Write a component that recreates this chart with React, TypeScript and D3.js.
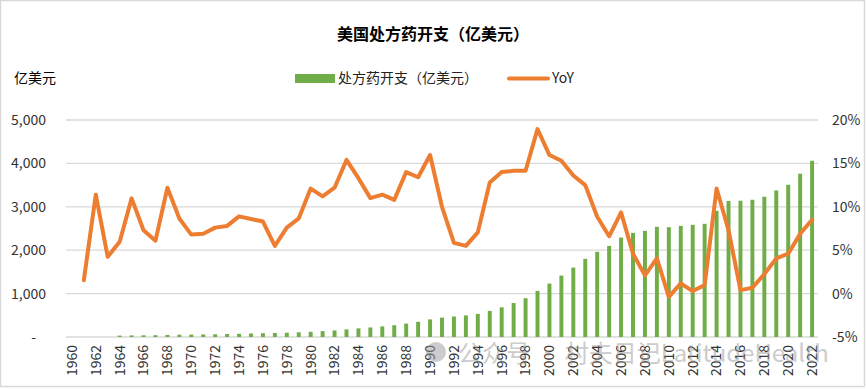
import React from 'react';
import * as d3 from 'd3';

const years: number[] = [
  1960, 1961, 1962, 1963, 1964, 1965, 1966, 1967, 1968, 1969,
  1970, 1971, 1972, 1973, 1974, 1975, 1976, 1977, 1978, 1979,
  1980, 1981, 1982, 1983, 1984, 1985, 1986, 1987, 1988, 1989,
  1990, 1991, 1992, 1993, 1994, 1995, 1996, 1997, 1998, 1999,
  2000, 2001, 2002, 2003, 2004, 2005, 2006, 2007, 2008, 2009,
  2010, 2011, 2012, 2013, 2014, 2015, 2016, 2017, 2018, 2019,
  2020, 2021, 2022,
];

// 处方药开支（亿美元）
const spending: (number | null)[] = [
  null, null, null, null, 33, 37, 40, 42, 47, 52,
  55, 59, 63, 68, 74, 81, 87, 92, 99, 108,
  120, 135, 151, 175, 198, 220, 245, 271, 309, 350,
  405, 446, 472, 498, 533, 601, 685, 782, 893, 1062,
  1231, 1415, 1600, 1800, 1962, 2100, 2292, 2400, 2446, 2538,
  2530, 2561, 2585, 2608, 2908, 3135, 3140, 3162, 3231, 3377,
  3508, 3762, 4062,
];

// YoY (%)
const yoy: (number | null)[] = [
  null, 1.55, 11.4, 4.24, 5.97, 10.97, 7.3, 6.1, 12.2, 8.65,
  6.8, 6.9, 7.6, 7.8, 8.9, 8.6, 8.3, 5.5, 7.6, 8.66,
  12.1, 11.2, 12.2, 15.4, 13.3, 11.0, 11.4, 10.8, 14.0, 13.4,
  15.96, 10.0, 5.85, 5.5, 7.05, 12.8, 14.0, 14.15, 14.15, 18.95,
  15.96, 15.3, 13.6, 12.5, 8.85, 6.6, 9.35, 4.6, 2.1, 4.05,
  -0.37, 1.17, 0.29, 0.98, 12.1, 7.3, 0.4, 0.67, 2.25, 4.05,
  4.6, 6.9, 8.5,
];

const leftTicks: number[] = [0, 1000, 2000, 3000, 4000, 5000];
const rightTicks: number[] = [-5, 0, 5, 10, 15, 20];

const title = '美国处方药开支（亿美元）';
const barName = '处方药开支（亿美元）';
const lineName = 'YoY';
const leftUnit = '亿美元';
const watermark = '公众号 · 村夫日记LatitudeHealth';

const W = 867;
const H = 389;
const M = { left: 66, right: 49, top: 120, bottom: 52 };
const GREEN = '#70AD47';
const ORANGE = '#ED7D31';
const GRID = '#D9D9D9';
const FONT = '"Noto Sans CJK SC", "Noto Sans", sans-serif';

export default function App() {
  const x = d3
    .scaleBand<number>()
    .domain(years)
    .range([M.left, W - M.right])
    .paddingInner(0.67)
    .paddingOuter(0.33);
  const yL = d3.scaleLinear().domain([0, 5000]).range([H - M.bottom, M.top]);
  const yR = d3.scaleLinear().domain([-5, 20]).range([H - M.bottom, M.top]);
  const cx = (yr: number) => (x(yr) as number) + x.bandwidth() / 2;

  const pts = years
    .map((yr, i) => ({ yr, v: yoy[i] }))
    .filter((d) => d.v !== null) as { yr: number; v: number }[];
  const line = d3
    .line<{ yr: number; v: number }>()
    .x((d) => cx(d.yr))
    .y((d) => yR(d.v));

  const fmt = d3.format(',');

  return (
    <>
      <style>{'body{margin:0}'}</style>
      <svg width={W} height={H} style={{ display: 'block', fontFamily: FONT }}>
        <rect x={0} y={0} width={W} height={H} fill="#fff" />
        <rect x={0.5} y={0.5} width={W - 3} height={H - 3} fill="none" stroke={GRID} strokeWidth={1.5} />

        <text x={433} y={40} textAnchor="middle" fontSize={16} fontWeight="bold" fill="#000">
          {title}
        </text>

        {/* legend */}
        <text x={14} y={83} fontSize={14} fill="#000">{leftUnit}</text>
        <rect x={295} y={74} width={40} height={9} fill={GREEN} />
        <text x={338} y={83} fontSize={14} fill="#222">{barName}</text>
        <line x1={509} x2={548} y1={78.5} y2={78.5} stroke={ORANGE} strokeWidth={4} strokeLinecap="round" />
        <text x={552} y={83} fontSize={14} fill="#222">{lineName}</text>

        {/* grid */}
        {leftTicks.map((t) => (
          <line key={t} x1={M.left} x2={W - M.right} y1={yL(t)} y2={yL(t)} stroke={GRID} strokeWidth={1.3} />
        ))}

        {/* left axis labels */}
        {leftTicks.map((t) =>
          t === 0 ? (
            <text key={t} x={36} y={yL(t)} dy="0.35em" textAnchor="end" fontSize={14} fill="#333">-</text>
          ) : (
            <text key={t} x={46} y={yL(t)} dy="0.35em" textAnchor="end" fontSize={14} fill="#333">
              {fmt(t)}
            </text>
          )
        )}
        {/* right axis labels */}
        {rightTicks.map((t) => (
          <text key={t} x={832} y={yR(t)} dy="0.35em" textAnchor="start" fontSize={14} fill="#333">
            {t}%
          </text>
        ))}

        {/* bars */}
        {years.map((yr, i) =>
          spending[i] === null ? null : (
            <rect
              key={yr}
              x={x(yr)}
              y={yL(spending[i] as number)}
              width={x.bandwidth()}
              height={yL(0) - yL(spending[i] as number)}
              fill={GREEN}
            />
          )
        )}

        {/* line */}
        <path d={line(pts) || ''} fill="none" stroke={ORANGE} strokeWidth={4} strokeLinejoin="round" strokeLinecap="round" />

        {/* x labels */}
        {years
          .filter((yr) => yr % 2 === 0)
          .map((yr) => (
            <text
              key={yr}
              transform={`translate(${cx(yr)},${H - M.bottom + 8}) rotate(-90)`}
              dy="0.35em"
              textAnchor="end"
              fontSize={14}
              fill="#333"
            >
              {yr}
            </text>
          ))}

        {/* watermark */}
        <g opacity={0.5}>
          <circle cx={436} cy={352} r={10} fill="#9a9a9a" />
          <text x={458} y={362} fontSize={24} fill="#9a9a9a">{watermark}</text>
        </g>
      </svg>
    </>
  );
}
